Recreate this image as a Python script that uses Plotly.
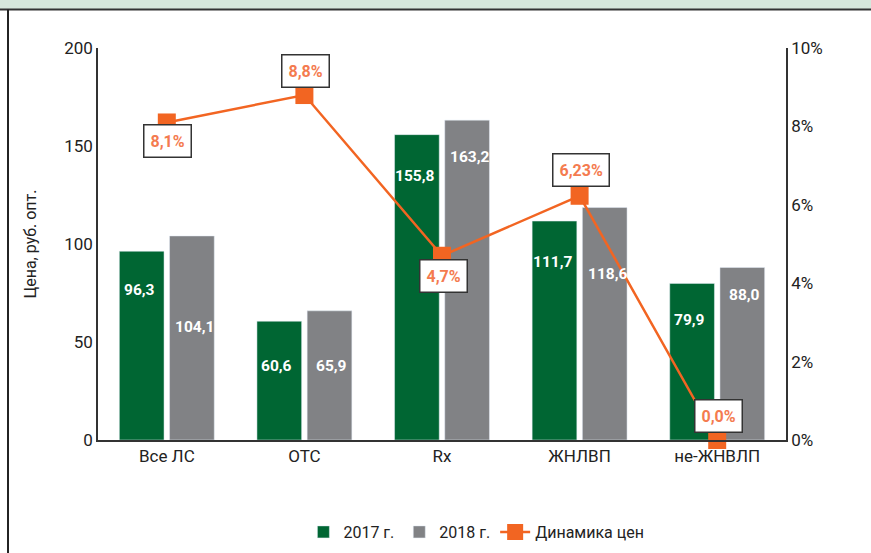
import plotly.graph_objects as go

categories = ["Все ЛС", "OTC", "Rx", "ЖНЛВП", "не-ЖНВЛП"]
values_2017 = [96.3, 60.6, 155.8, 111.7, 79.9]
values_2018 = [104.1, 65.9, 163.2, 118.6, 88.0]
dynamics = [8.1, 8.8, 4.7, 6.23, 0.0]
labels_2017 = ["96,3", "60,6", "155,8", "111,7", "79,9"]
labels_2018 = ["104,1", "65,9", "163,2", "118,6", "88,0"]
dyn_labels = ["8,1%", "8,8%", "4,7%", "6,23%", "0,0%"]
left_ticks = [0, 50, 100, 150, 200]
right_ticks = [0, 2, 4, 6, 8, 10]
right_tick_text = ["0%", "2%", "4%", "6%", "8%", "10%"]

# label placement (data units on left axis) and pixel shifts for callouts
label_y_2017 = [76.5, 37.8, 134.7, 90.8, 61.2]
label_y_2018 = [57.7, 37.8, 144.4, 84.7, 74.0]
callout_shift = [-19, 24, -20, 26, 24]

GREEN = "#006633"
GRAY = "#818285"
ORANGE = "#F26522"
ORANGE_TXT = "#F47B4F"
FONT = "Roboto"

fig = go.Figure()
fig.add_trace(go.Bar(x=categories, y=values_2017, name="2017 г.", marker_color=GREEN))
fig.add_trace(go.Bar(x=categories, y=values_2018, name="2018 г.", marker_color=GRAY))
fig.add_trace(go.Scatter(
    x=categories, y=dynamics, name="Динамика цен", yaxis="y2",
    mode="lines+markers", line=dict(color=ORANGE, width=2.5),
    marker=dict(symbol="square", size=18, color=ORANGE),
    cliponaxis=False,
))

annotations = []
for i, c in enumerate(categories):
    annotations.append(dict(x=c, y=label_y_2017[i], text="<b>%s</b>" % labels_2017[i],
                            xshift=-27.5, showarrow=False,
                            font=dict(family=FONT, size=15.5, color="white")))
    annotations.append(dict(x=c, y=label_y_2018[i], text="<b>%s</b>" % labels_2018[i],
                            xshift=27.5, showarrow=False,
                            font=dict(family=FONT, size=15.5, color="white")))
    annotations.append(dict(x=c, y=dynamics[i], yref="y2", text="<b>%s</b>" % dyn_labels[i],
                            yshift=callout_shift[i], xshift=1, showarrow=False,
                            bgcolor="white", bordercolor="#333333", borderwidth=1.5,
                            borderpad=6,
                            font=dict(family=FONT, size=16, color=ORANGE_TXT)))

shapes = [
    dict(type="rect", xref="paper", yref="paper", x0=-0.2, x1=1.2,
         y0=1.0995, y1=1.13, fillcolor="#D6E7DC", line_width=0, layer="below"),
    dict(type="line", xref="paper", yref="paper", x0=-0.2, x1=1.2,
         y0=1.098, y1=1.098, line=dict(color="#333333", width=2)),
    dict(type="line", xref="paper", yref="paper", x0=-0.1308, x1=-0.1308,
         y0=-0.3, y1=1.098, line=dict(color="#222222", width=2)),
]

fig.update_layout(
    width=871, height=553,
    margin=dict(l=98, r=85, t=48, b=113, autoexpand=False),
    paper_bgcolor="white", plot_bgcolor="white",
    font=dict(family=FONT, size=17, color="#222222"),
    barmode="group", bargap=0.27, bargroupgap=0.11,
    showlegend=True,
    legend=dict(orientation="h", x=0.55, xanchor="center", y=-0.2347, yanchor="middle",
                font=dict(family=FONT, size=16, color="#222222"),
                itemwidth=30, tracegroupgap=0),
    xaxis=dict(showline=True, linecolor="#333333", linewidth=1.5, ticks="",
               tickfont=dict(size=17), automargin=False),
    yaxis=dict(range=[0, 200], tickvals=left_ticks, showgrid=False, zeroline=False,
               showline=True, linecolor="#333333", linewidth=1.5, ticks="",
               title=dict(text="Цена, руб. опт.", font=dict(size=16), standoff=24),
               tickfont=dict(size=17), automargin=False),
    yaxis2=dict(range=[0, 10], tickvals=right_ticks, ticktext=right_tick_text,
                overlaying="y", side="right", showgrid=False, zeroline=False, showline=True,
                linecolor="#333333", linewidth=1.5, ticks="", tickfont=dict(size=17),
                automargin=False),
    annotations=annotations,
    shapes=shapes,
)

fig.write_html("out.html", config={"displayModeBar": False},
               post_script="document.body.style.margin='0px';document.body.style.overflow='hidden';")
